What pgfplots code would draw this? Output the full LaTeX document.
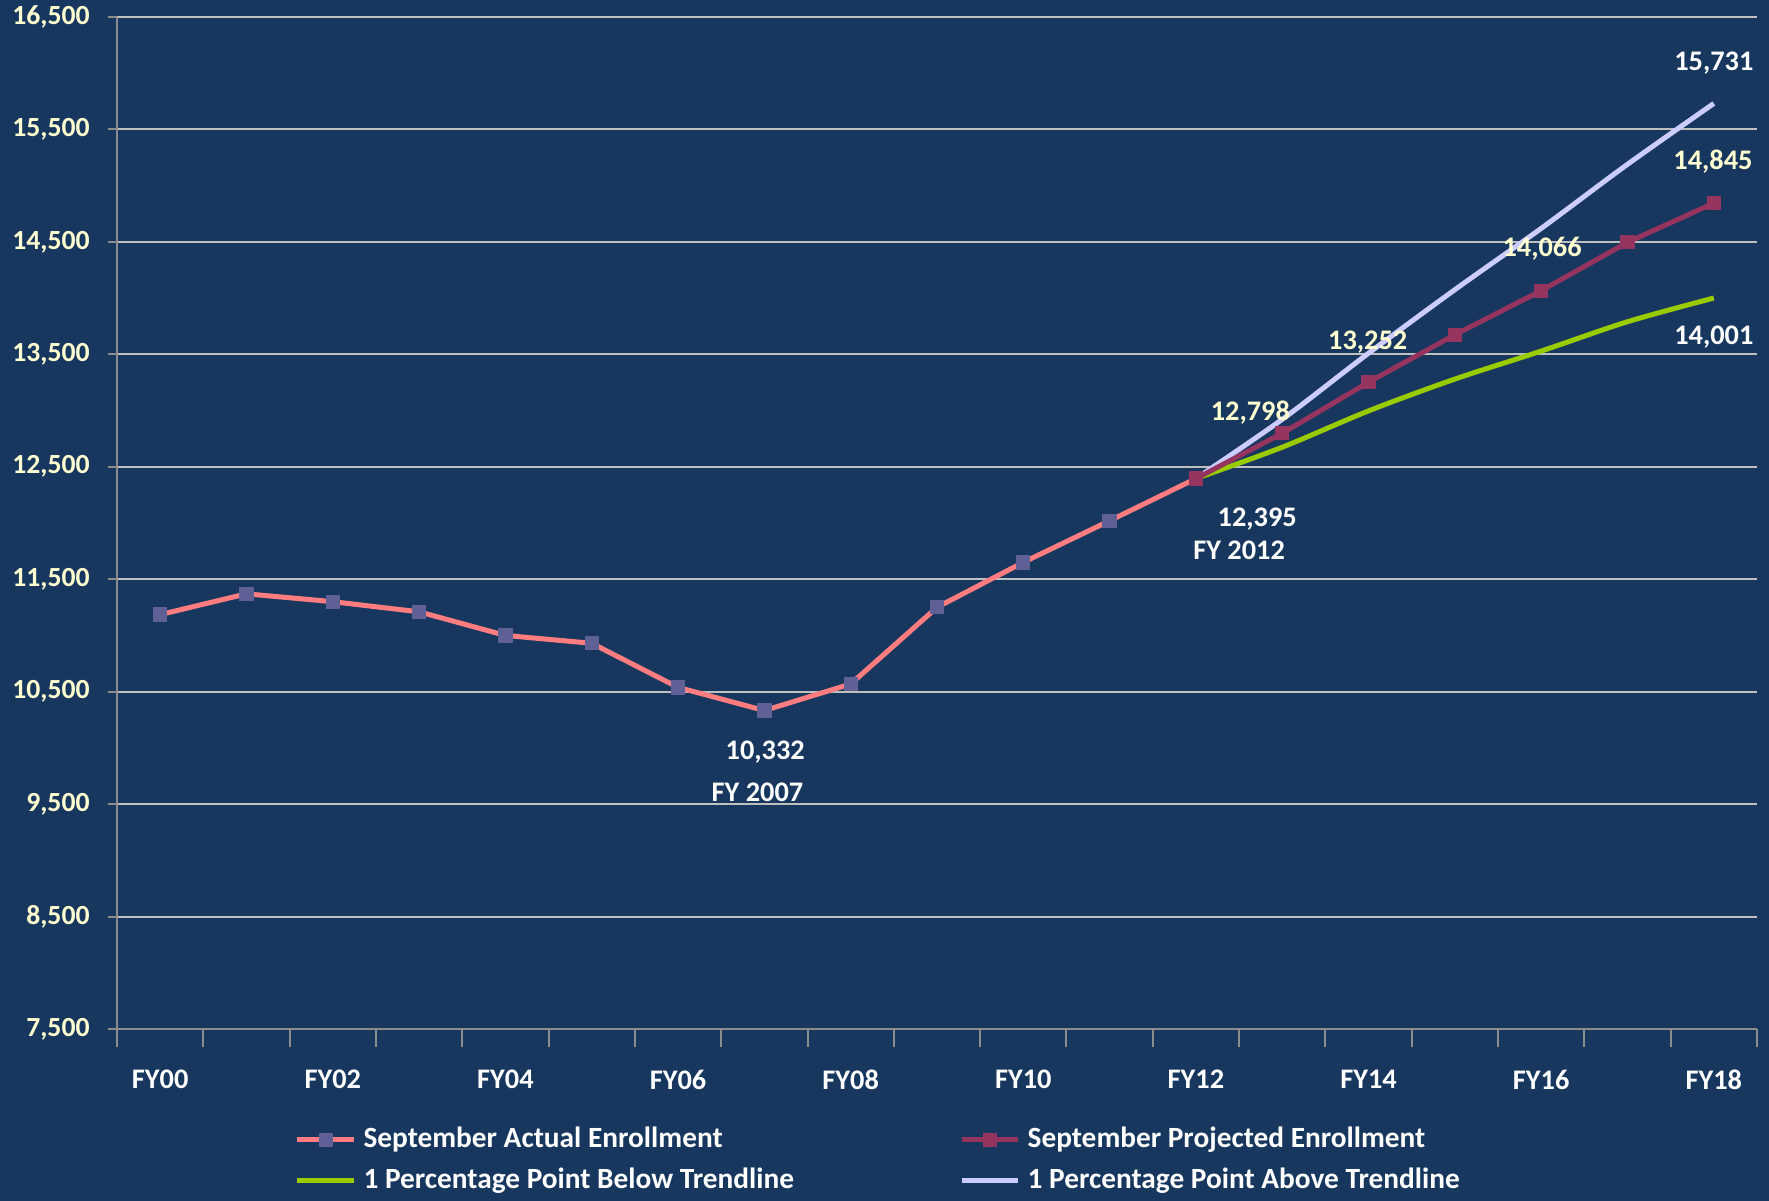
\documentclass[border=0pt]{standalone}
\usepackage{pgfplots}
\pgfplotsset{compat=1.18}
\usepackage{fontspec}
\setmainfont{Carlito}
\definecolor{bg}{HTML}{17375E}
\definecolor{salmon}{HTML}{FF7C80}
\definecolor{slate}{HTML}{5F6096}
\definecolor{maroon}{HTML}{963460}
\definecolor{lime}{HTML}{99CC00}
\definecolor{lav}{HTML}{CCCCFF}
\definecolor{gridc}{HTML}{BFBFBF}
\definecolor{axc}{HTML}{8C8C8C}
\definecolor{cream}{HTML}{FFFFD2}
\begin{document}
\begin{tikzpicture}
\useasboundingbox (0,0) rectangle (530.7pt,360.3pt);
\fill[bg] (0,0) rectangle (530.7pt,360.3pt);
\begin{axis}[
  at={(35.1pt,51.6pt)}, anchor=south west,
  width=492pt, height=303.6pt, scale only axis,
  clip=false,
  xmin=-0.5, xmax=18.5, ymin=7500, ymax=16500,
  xtick={0,2,...,18},
  xticklabels={FY00,FY02,FY04,FY06,FY08,FY10,FY12,FY14,FY16,FY18},
  minor xtick={-0.5,0.5,...,18.5},
  ytick={7500,8500,...,16500},
  scaled y ticks=false,
  ymajorgrids,
  grid style={line width=0.6pt, color=gridc},
  axis x line*=bottom, axis y line*=left,
  axis line style={line width=0.6pt, color=axc},
  tick align=outside,
  major tick length=2.7pt, minor tick length=5.5pt,
  tick style={line width=0.6pt, color=axc},
  major x tick style={draw=none},
  /pgf/number format/.cd, fixed, 1000 sep={,}, assume math mode=true,
  /pgfplots/.cd,
  yticklabel style={font=\bfseries\fontsize{8.3}{10}\selectfont, text=cream, xshift=-2pt},
  xticklabel style={font=\bfseries\fontsize{8.5}{10}\selectfont, text=white, yshift=-6pt},
  legend columns=2,
  legend cell align=left,
  legend style={at={(0.102,-0.083)}, anchor=north west, draw=none, fill=none,
    font=\bfseries\fontsize{8.8}{10}\selectfont, text=white, row sep=0.5pt,
    /tikz/every even column/.append style={column sep=47.5pt},
    /tikz/every odd column/.append style={column sep=0pt}},
]
% background lines without legend entry
\addplot[color=lime, line width=1.5pt, smooth, forget plot] coordinates {
 (12,12395) (13,12674) (14,12997) (15,13280) (16,13529) (17,13790) (18,14001)};
\addplot[color=lav, line width=1.5pt, smooth, forget plot] coordinates {
 (12,12395) (13,12922) (14,13510) (15,14075) (16,14620) (17,15190) (18,15731)};
% actual
\addplot[color=salmon, line width=1.5pt, mark=square*, mark size=1.4pt,
  mark options={fill=slate, draw=slate}] coordinates {
 (0,11185) (1,11370) (2,11300) (3,11210) (4,11000) (5,10930) (6,10538)
 (7,10332) (8,10568) (9,11250) (10,11650) (11,12020) (12,12395)};
\addlegendentry{September Actual Enrollment}
% projected
\addplot[color=maroon, line width=1.5pt, mark=square*, mark size=1.4pt,
  mark options={fill=maroon, draw=maroon}] coordinates {
 (12,12395) (13,12798) (14,13252) (15,13674) (16,14066) (17,14496) (18,14845)};
\addlegendentry{September Projected Enrollment}
\addlegendimage{color=lime, line width=1.5pt}
\addlegendentry{1 Percentage Point Below Trendline}
\addlegendimage{color=lav, line width=1.5pt}
\addlegendentry{1 Percentage Point Above Trendline}
% data labels
\begin{scope}[every node/.style={font=\bfseries\fontsize{8.5}{10}\selectfont, inner sep=0pt}]
\node[text=white] at (axis cs:7.01,9963) {10,332};
\node[text=white] at (axis cs:6.92,9607) {FY 2007};
\node[text=white] at (axis cs:12.71,12035) {12,395};
\node[text=white] at (axis cs:12.5,11760) {FY 2012};
\node[text=cream] at (axis cs:12.63,12978) {12,798};
\node[text=cream] at (axis cs:13.99,13610) {13,252};
\node[text=cream] at (axis cs:16.01,14437) {14,066};
\node[text=cream] at (axis cs:17.99,15210) {14,845};
\node[text=white] at (axis cs:18,16091) {15,731};
\node[text=white] at (axis cs:18,13654) {14,001};
\end{scope}
\end{axis}
\end{tikzpicture}
\end{document}
